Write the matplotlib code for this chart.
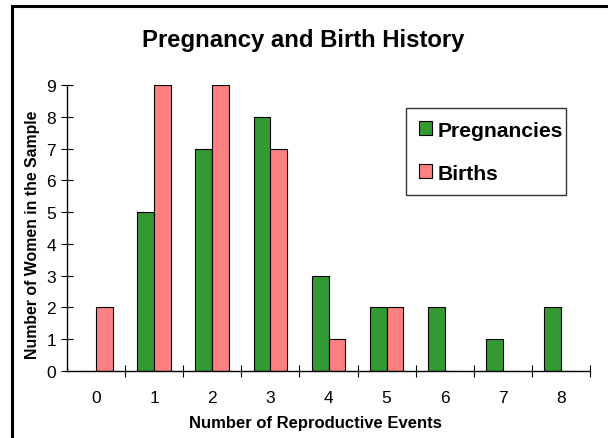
import matplotlib
matplotlib.use("Agg")
import matplotlib.pyplot as plt
import numpy as np
from matplotlib.patches import Rectangle

plt.rcParams['font.family'] = ['Liberation Sans', 'DejaVu Sans']

# data
events = ['0', '1', '2', '3', '4', '5', '6', '7', '8']
pregnancies = [0, 5, 7, 8, 3, 2, 2, 1, 2]
births = [2, 9, 9, 7, 1, 2, 0, 0, 0]

green = '#339933'
pink = '#ff8080'

fig = plt.figure(figsize=(6.08, 4.39), dpi=100)
ax = fig.add_axes([67/608, 1-372/439, 523/608, 286/439])

x = np.arange(len(events))
w = 0.29
ax.bar(x, pregnancies, width=-w, align='edge', color=green, edgecolor='black', linewidth=0.8, label='Pregnancies')
ax.bar(x, births, width=w, align='edge', color=pink, edgecolor='black', linewidth=0.8, label='Births')

ax.set_xlim(-0.5, len(events) - 0.5)
ax.set_ylim(0, 9)
ax.set_yticks(range(0, 10))
ax.tick_params(axis='y', direction='inout', length=8, width=0.8, labelsize=12.5, pad=4)
ax.set_xticks(x)
ax.set_xticklabels(events)
ax.set_xticks(np.arange(0.5, len(events)), minor=True)
ax.tick_params(axis='x', which='major', length=0, labelsize=12.5, pad=14)
ax.tick_params(axis='x', which='minor', direction='inout', length=8, width=0.8)

for s in ['top', 'right']:
    ax.spines[s].set_visible(False)
for s in ['left', 'bottom']:
    ax.spines[s].set_linewidth(1)

fig.text(315/608, 1-424/439, 'Number of Reproductive Events', fontsize=12, fontweight='bold',
         ha='center', va='center')
fig.text(33/608, 1-235/439, 'Number of Women in the Sample', fontsize=11.4, fontweight='bold',
         ha='center', va='center', rotation=90)
fig.text(303/608, 1-40/439, 'Pregnancy and Birth History', fontsize=17.2, fontweight='bold',
         ha='center', va='center')

leg = ax.legend(loc='upper left', bbox_to_anchor=(0.648, 0.63, 0.306, 0.29), mode='expand',
                prop={'weight': 'bold', 'size': 15.2},
                handlelength=0.65, handleheight=0.65, handletextpad=0.25,
                labelspacing=1.15, borderpad=0.6, borderaxespad=0, fancybox=False, framealpha=1)
leg.get_frame().set_edgecolor('#333333')
leg.get_frame().set_linewidth(1)

# outer chart border
fig.patches.append(Rectangle((12/608, -0.1), 1.2, 1 - 7/439 + 0.1, transform=fig.transFigure,
                             fill=False, edgecolor='black', linewidth=2.2))

fig.savefig('out.png', dpi=100)
